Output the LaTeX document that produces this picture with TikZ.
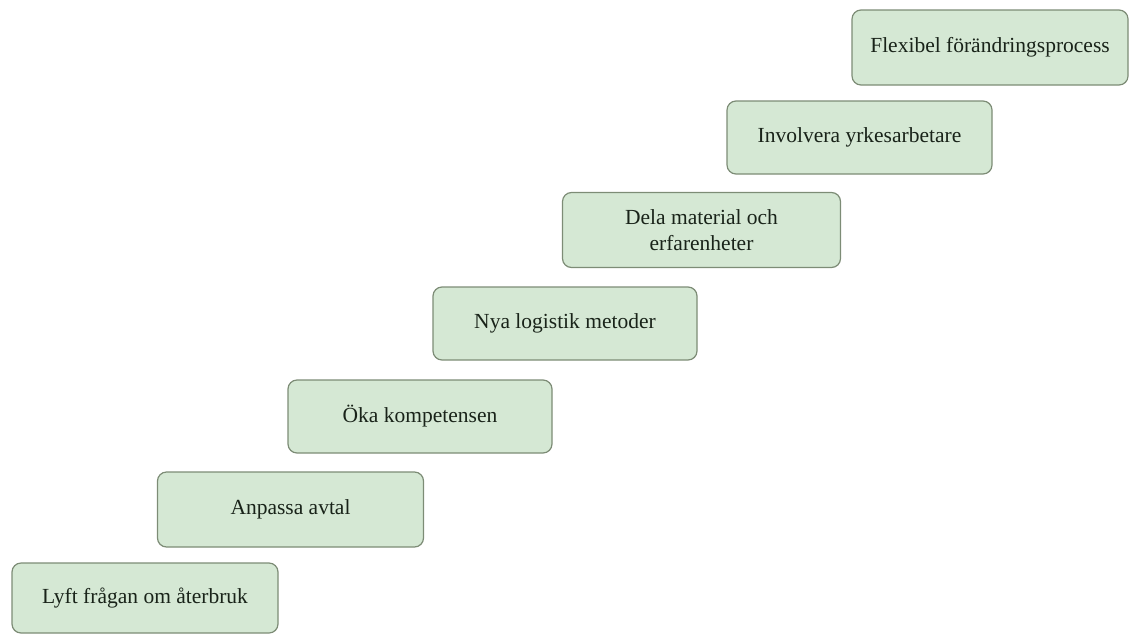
\documentclass[tikz,border=0pt]{standalone}
\usepackage{fontspec}
\setmainfont{Liberation Serif}
\begin{document}
\begin{tikzpicture}[x=1pt,y=-1pt,
  stepbox/.style={draw=boxline, fill=boxfill, line width=1.2pt, rounded corners=9pt,
    text=textcol, font=\fontsize{21.5}{26}\selectfont, align=center, inner sep=0pt}]
\definecolor{boxfill}{RGB}{213,232,212}
\definecolor{boxline}{RGB}{125,140,118}
\definecolor{textcol}{RGB}{25,35,25}
\useasboundingbox (0,0) rectangle (1131,635);
\node[stepbox, minimum width=266pt, minimum height=70pt] (s1) at (145,598) {Lyft frågan om återbruk};
\node[stepbox, minimum width=266pt, minimum height=75pt] (s2) at (290.5,509.5) {Anpassa avtal};
\node[stepbox, minimum width=264pt, minimum height=73pt] (s3) at (420,416.5) {Öka kompetensen};
\node[stepbox, minimum width=264pt, minimum height=73pt] (s4) at (565,323.5) {Nya logistik metoder};
\node[stepbox, minimum width=278pt, minimum height=75pt] (s5) at (701.5,230) {Dela material och\\erfarenheter};
\node[stepbox, minimum width=265pt, minimum height=73pt] (s6) at (859.5,137.5) {Involvera yrkesarbetare};
\node[stepbox, minimum width=276pt, minimum height=75pt] (s7) at (990,47.5) {Flexibel förändringsprocess};
\end{tikzpicture}
\end{document}
